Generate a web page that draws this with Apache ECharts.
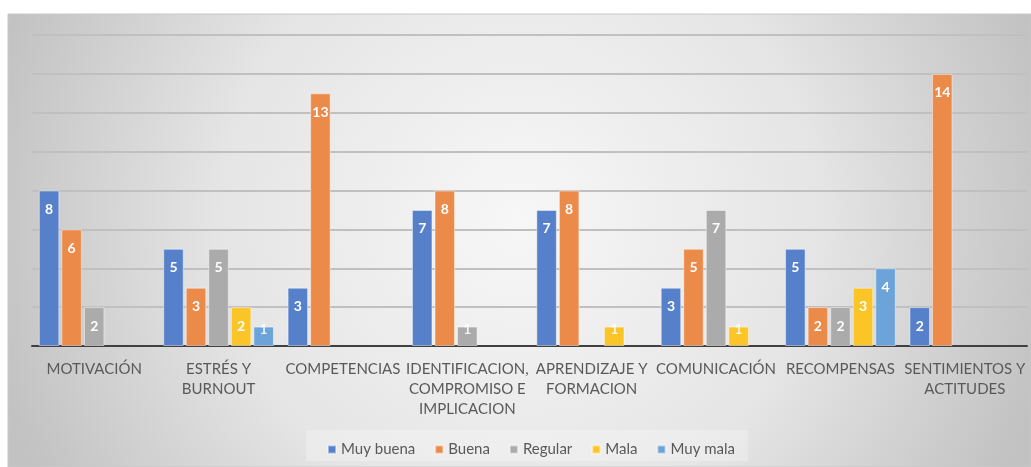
<!DOCTYPE html>
<html>
<head>
<meta charset="utf-8">
<script src="https://cdn.jsdelivr.net/npm/echarts@6/dist/echarts.min.js"></script>
<style>
html,body{margin:0;padding:0;background:#fff;}
#c{width:1031px;height:467px;}
</style>
</head>
<body>
<div id="c"></div>
<script>
const categories = ['MOTIVACIÓN','ESTRÉS Y\nBURNOUT','COMPETENCIAS','IDENTIFICACION,\nCOMPROMISO E\nIMPLICACION','APRENDIZAJE Y\nFORMACION','COMUNICACIÓN','RECOMPENSAS','SENTIMIENTOS Y\nACTITUDES'];
const seriesNames = ['Muy buena','Buena','Regular','Mala','Muy mala'];
const muyBuena = [8,5,3,7,7,3,5,2];
const buena = [6,3,13,8,8,5,2,14];
const regular = [2,5,null,1,null,7,2,null];
const mala = [null,2,null,null,1,1,3,null];
const muyMala = [null,1,null,null,null,null,4,null];
const colors = ['#5780CB','#EC8A4A','#ABABAB','#FBC528','#6CA4D9'];
const values = [muyBuena,buena,regular,mala,muyMala];

const FONT = 'Lato';
const chart = echarts.init(document.getElementById('c'), null, {renderer:'canvas'});
const series = seriesNames.map((n,i)=>({
  name:n,
  type:'bar',
  data:values[i].map(v => (v === 1 ? {value:v, label:{distance:-4, color:'rgba(255,255,255,0.85)'}} : v)),
  barGap:'10%',
  barCategoryGap:'11%',
  itemStyle:{color:colors[i], borderColor:'rgba(255,255,255,0.45)', borderWidth:1},
  label:{show:true, position:'insideTop', distance:12, color:'#fff', fontWeight:'bold', fontSize:14, fontFamily:FONT},
  emphasis:{disabled:true}
}));
chart.setOption({
  animation:false,
  backgroundColor:'#ffffff',
  graphic:[{
    type:'rect', z:-10, silent:true,
    shape:{x:8,y:14,width:1023,height:453},
    style:{
      fill:new echarts.graphic.RadialGradient(0.5,0.45,1.2,[{offset:0,color:'#f7f7f7'},{offset:0.55,color:'#e5e5e5'},{offset:1,color:'#c2c2c2'}]),
      stroke:'#c8c8c8', lineWidth:1
    }
  },{
    type:'rect', z:-5, silent:true,
    shape:{x:306,y:430,width:442,height:31},
    style:{fill:'rgba(255,255,255,0.25)'}
  }],
  color:colors,
  grid:{left:32,right:4,top:35,bottom:121,containLabel:false},
  legend:{
    data:seriesNames,
    left:322, top:437,
    icon:'rect', itemWidth:8, itemHeight:8, itemGap:19,
    textStyle:{color:'#595959', fontSize:15, fontFamily:FONT}
  },
  xAxis:{
    type:'category', data:categories,
    axisLine:{lineStyle:{color:'#404040', width:2}},
    axisTick:{show:false},
    axisLabel:{color:'#595959', fontSize:15, fontFamily:FONT, interval:0, lineHeight:20, margin:13}
  },
  yAxis:{
    type:'value', min:0, max:16, interval:2,
    axisLabel:{show:false}, axisLine:{show:false}, axisTick:{show:false},
    splitLine:{lineStyle:{color:'#c0c0c0', width:2}}
  },
  series:series
});
</script>
</body>
</html>
